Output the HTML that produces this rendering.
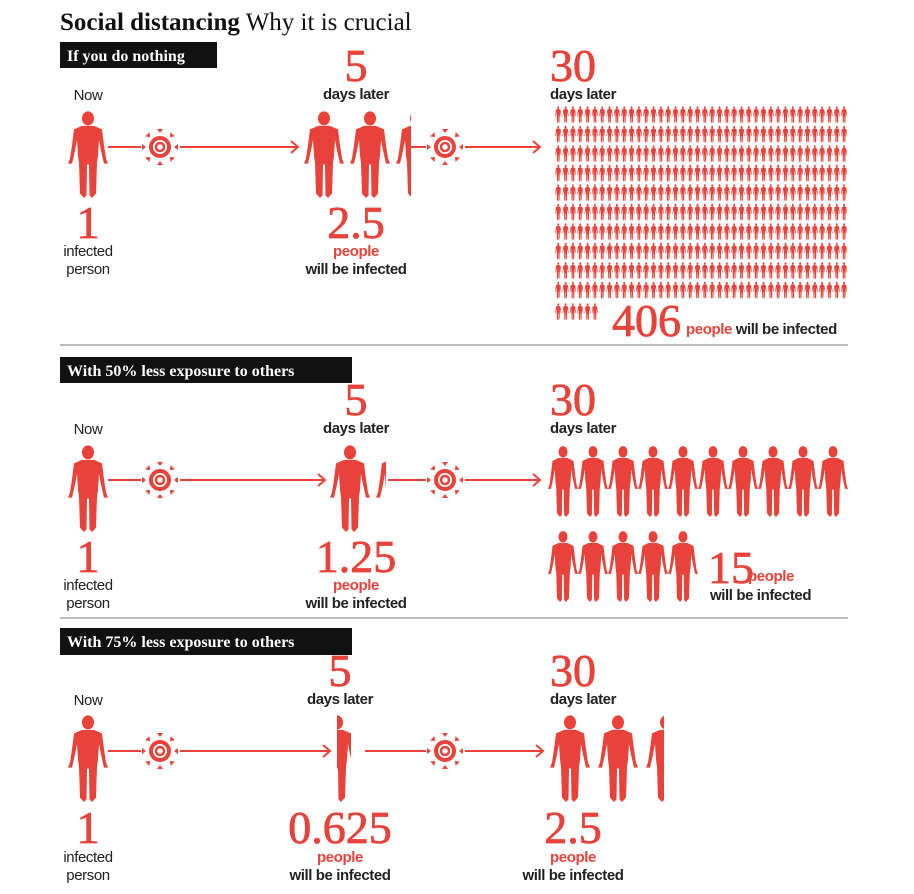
<!DOCTYPE html>
<html><head><meta charset="utf-8"><style>
body{margin:0;background:#fff}
svg{display:block}
.t{font-family:"Liberation Sans",sans-serif}
.s{font-family:"Liberation Serif",serif}
.lab{font-family:"Liberation Sans",sans-serif;font-size:15px;fill:#222;letter-spacing:-0.4px}
.bd{font-weight:bold}
.big{font-family:"Liberation Serif",serif;font-size:46px;fill:#e8423a;stroke:#e8423a;stroke-width:0.8}
.red{fill:#e8423a}
</style></head><body>
<svg id="s" width="914" height="894" viewBox="0 0 914 894" xmlns="http://www.w3.org/2000/svg">
<defs>
<symbol id="p" viewBox="0 0 40 100" preserveAspectRatio="none">
<ellipse cx="20" cy="9.5" rx="6" ry="8" fill="#e8423a"/>
<path fill="#e8423a" d="M14 18 L26 18 L34 22 L36 40 L38 55 L40 61 L36 61 L33 46 L31 34 L30 52 L29 60 L28 95 L24 100 L21.5 97 L21 62 L19 62 L18.5 97 L16 100 L12 95 L11 60 L10 52 L9 34 L7 46 L4 61 L0 61 L2 55 L4 40 L6 22 Z"/>
</symbol>
<symbol id="v" viewBox="-20 -20 40 40">
<circle r="9" fill="none" stroke="#e8423a" stroke-width="4"/>
<circle r="4" fill="none" stroke="#e8423a" stroke-width="2.5"/>
<g id="tri" fill="#e8423a"><path d="M-3 -18 L3 -18 L0 -14 Z"/></g>
<use href="#tri" transform="rotate(45)"/><use href="#tri" transform="rotate(90)"/><use href="#tri" transform="rotate(135)"/><use href="#tri" transform="rotate(180)"/><use href="#tri" transform="rotate(225)"/><use href="#tri" transform="rotate(270)"/><use href="#tri" transform="rotate(315)"/>
</symbol>
</defs>
<text x="60" y="30" class="s" font-size="25" fill="#111"><tspan font-weight="bold">Social distancing</tspan> Why it is crucial</text>

<!-- section 1 -->
<rect x="60" y="42" width="157" height="26" fill="#111"/>
<text x="67" y="61" class="s bd" font-size="16" fill="#fff">If you do nothing</text>
<text x="88" y="100" class="lab" text-anchor="middle">Now</text>
<use href="#p" x="68" y="110" width="40" height="88"/>
<text x="88" y="238" class="big" text-anchor="middle">1</text>
<text x="88" y="256" class="lab" text-anchor="middle">infected</text>
<text x="88" y="274" class="lab" text-anchor="middle">person</text>
<text x="356" y="81" class="big" text-anchor="middle">5</text>
<text x="356" y="99" class="lab bd" text-anchor="middle">days later</text>
<use href="#p" x="304" y="110" width="40" height="88"/>
<use href="#p" x="350" y="110" width="40" height="88"/>
<svg x="396" y="110" width="15" height="88" viewBox="0 0 15 88"><use href="#p" x="0" y="0" width="40" height="88"/></svg>
<text x="356" y="238" class="big" text-anchor="middle">2.5</text>
<text x="356" y="256" class="lab bd red" text-anchor="middle">people</text>
<text x="356" y="274" class="lab bd" text-anchor="middle">will be infected</text>
<text x="550" y="81" class="big">30</text>
<text x="550" y="99" class="lab bd">days later</text>
<g id="grid"></g>
<text x="612" y="336" class="big">406</text>
<text x="686" y="334" class="lab bd red">people <tspan fill="#222">will be infected</tspan></text>
<line x1="60" y1="345" x2="848" y2="345" stroke="#bbb" stroke-width="2"/>

<!-- section 2 -->
<rect x="60" y="357" width="292" height="26" fill="#111"/>
<text x="67" y="376" class="s bd" font-size="16" fill="#fff">With 50% less exposure to others</text>
<text x="88" y="434" class="lab" text-anchor="middle">Now</text>
<use href="#p" x="68" y="444" width="40" height="88"/>
<text x="88" y="572" class="big" text-anchor="middle">1</text>
<text x="88" y="590" class="lab" text-anchor="middle">infected</text>
<text x="88" y="608" class="lab" text-anchor="middle">person</text>
<text x="356" y="415" class="big" text-anchor="middle">5</text>
<text x="356" y="433" class="lab bd" text-anchor="middle">days later</text>
<use href="#p" x="330" y="444" width="40" height="88"/>
<svg x="376" y="444" width="10" height="88" viewBox="0 0 10 88"><use href="#p" x="0" y="0" width="40" height="88"/></svg>
<text x="356" y="572" class="big" text-anchor="middle">1.25</text>
<text x="356" y="590" class="lab bd red" text-anchor="middle">people</text>
<text x="356" y="608" class="lab bd" text-anchor="middle">will be infected</text>
<text x="550" y="415" class="big">30</text>
<text x="550" y="433" class="lab bd">days later</text>
<g id="row2"></g>
<text x="708" y="583" class="big">15</text>
<text x="748" y="581" class="lab bd red">people</text>
<text x="710" y="600" class="lab bd">will be infected</text>
<line x1="60" y1="618" x2="848" y2="618" stroke="#bbb" stroke-width="2"/>

<!-- section 3 -->
<rect x="60" y="628" width="292" height="27" fill="#111"/>
<text x="67" y="647" class="s bd" font-size="16" fill="#fff">With 75% less exposure to others</text>
<text x="88" y="705" class="lab" text-anchor="middle">Now</text>
<use href="#p" x="68" y="714" width="40" height="88"/>
<text x="88" y="843" class="big" text-anchor="middle">1</text>
<text x="88" y="862" class="lab" text-anchor="middle">infected</text>
<text x="88" y="880" class="lab" text-anchor="middle">person</text>
<text x="340" y="686" class="big" text-anchor="middle">5</text>
<text x="340" y="704" class="lab bd" text-anchor="middle">days later</text>
<svg x="337" y="714" width="14" height="88" viewBox="20 0 14 88"><use href="#p" x="0" y="0" width="40" height="88"/></svg>
<text x="340" y="843" class="big" text-anchor="middle">0.625</text>
<text x="340" y="862" class="lab bd red" text-anchor="middle">people</text>
<text x="340" y="880" class="lab bd" text-anchor="middle">will be infected</text>
<text x="550" y="686" class="big">30</text>
<text x="550" y="704" class="lab bd">days later</text>
<use href="#p" x="550" y="714" width="40" height="88"/>
<use href="#p" x="598" y="714" width="40" height="88"/>
<svg x="646" y="714" width="18" height="88" viewBox="0 0 18 88"><use href="#p" x="0" y="0" width="40" height="88"/></svg>
<text x="573" y="843" class="big" text-anchor="middle">2.5</text>
<text x="573" y="862" class="lab bd red" text-anchor="middle">people</text>
<text x="573" y="880" class="lab bd" text-anchor="middle">will be infected</text>

<g id="arrows" stroke="#e8423a" stroke-width="2" fill="none"></g>
</svg>
<script>
var NS="http://www.w3.org/2000/svg";
function el(p,tag,a){var e=document.createElementNS(NS,tag);for(var k in a)e.setAttribute(k,a[k]);p.appendChild(e);return e;}
var g=document.getElementById("grid");
for(var r=0;r<10;r++)for(var c=0;c<40;c++)el(g,"use",{href:"#p",x:555+c*7.33,y:106+r*19.5,width:6.5,height:17});
for(var c=0;c<6;c++)el(g,"use",{href:"#p",x:555+c*7.33,y:303,width:6.5,height:17});
var g2=document.getElementById("row2");
for(var c=0;c<10;c++)el(g2,"use",{href:"#p",x:548+c*30,y:445,width:30,height:72});
for(var c=0;c<5;c++)el(g2,"use",{href:"#p",x:548+c*30,y:530,width:30,height:72});
var s=document.getElementById("s"),a=document.getElementById("arrows");
function arrow(x1,x2,y){el(a,"line",{x1:x1,y1:y,x2:x2,y2:y});el(a,"path",{d:"M"+(x2-7)+" "+(y-6)+" L"+x2+" "+y+" L"+(x2-7)+" "+(y+6)});}
function line(x1,x2,y){el(a,"line",{x1:x1,y1:y,x2:x2,y2:y});}
function virus(x,y){el(s,"use",{href:"#v",x:x-20,y:y-20,width:40,height:40});}
[[147,0],[480,1],[751,2]].forEach(function(q){
 var y=q[0];
 line(108,141,y);virus(160,y);
 if(q[1]==0){arrow(180,298,y);line(410,426,y);virus(445,y);arrow(465,540,y);}
 if(q[1]==1){arrow(180,325,y);line(388,426,y);virus(445,y);arrow(465,540,y);}
 if(q[1]==2){arrow(180,330,y);line(365,426,y);virus(445,y);arrow(465,543,y);}
});
</script>
</body></html>
